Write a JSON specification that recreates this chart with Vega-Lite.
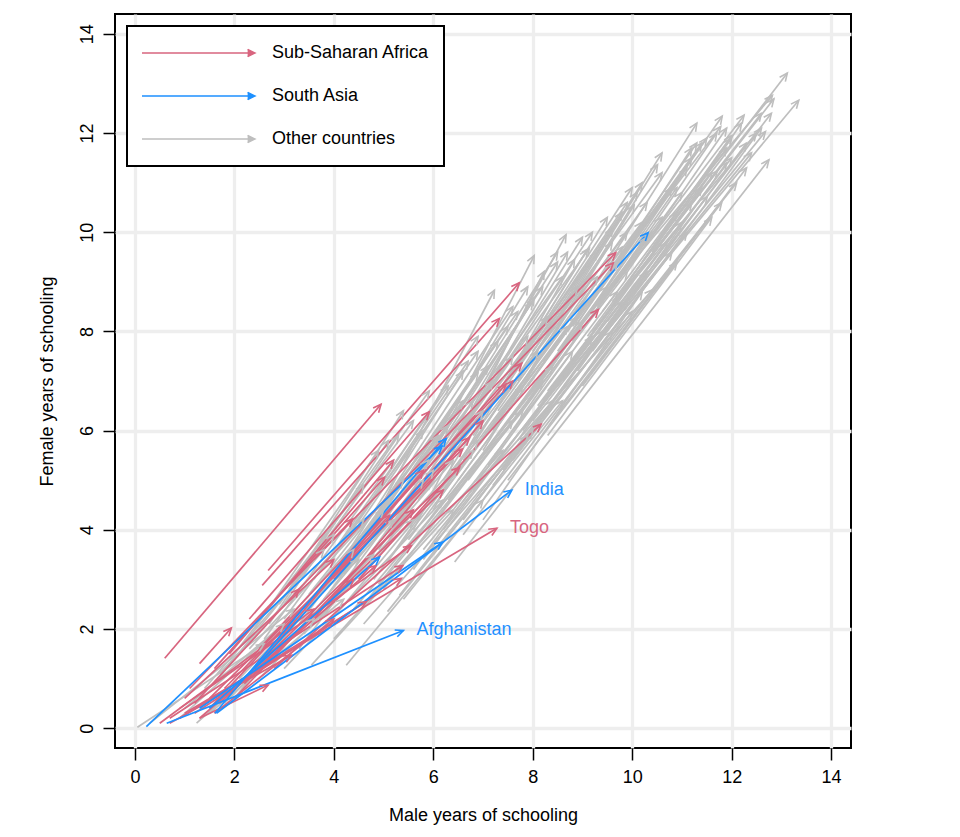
{
  "$schema": "https://vega.github.io/schema/vega-lite/v6.json",
  "autosize": "none",
  "width": 736,
  "height": 734,
  "padding": {"left": 115, "top": 14, "right": 109, "bottom": 89},
  "background": "white",
  "config": {
    "view": {"stroke": "black", "strokeWidth": 2},
    "font": "Liberation Sans",
    "axis": {
      "labelFont": "Liberation Sans", "labelFontSize": 18, "labelColor": "black",
      "titleFont": "Liberation Sans", "titleFontSize": 18, "titleFontWeight": "normal", "titleColor": "black",
      "tickColor": "black", "tickWidth": 1.5, "tickSize": 12, "domain": false,
      "gridColor": "#EEEEEE", "gridWidth": 3.3
    },
    "legend": {
      "labelFont": "Liberation Sans", "labelFontSize": 18, "labelColor": "black", "strokeWidth": 2
    }
  },
  "data": {"values": [
    {"x1":0.05,"y1":0.02,"x2":2.6,"y2":1.7,"region":"Other countries"},
    {"x1":0.3,"y1":0.1,"x2":3.2,"y2":2.4,"region":"Other countries"},
    {"x1":1.24,"y1":0.1,"x2":3.6,"y2":2.2,"region":"Other countries"},
    {"x1":0.9,"y1":0.2,"x2":3.0,"y2":2.1,"region":"Other countries"},
    {"x1":1.5,"y1":0.3,"x2":4.2,"y2":2.6,"region":"Other countries"},
    {"x1":1.0,"y1":0.4,"x2":4.5,"y2":3.4,"region":"Other countries"},
    {"x1":1.8,"y1":0.5,"x2":4.8,"y2":3.5,"region":"Other countries"},
    {"x1":2.0,"y1":0.6,"x2":4.4,"y2":3.6,"region":"Other countries"},
    {"x1":2.2,"y1":1.2,"x2":5.0,"y2":4.4,"region":"Other countries"},
    {"x1":1.6,"y1":0.9,"x2":4.0,"y2":3.9,"region":"Other countries"},
    {"x1":2.5,"y1":1.0,"x2":5.6,"y2":4.2,"region":"Other countries"},
    {"x1":2.8,"y1":1.4,"x2":5.8,"y2":5.0,"region":"Other countries"},
    {"x1":3.0,"y1":1.2,"x2":6.2,"y2":4.6,"region":"Other countries"},
    {"x1":3.55,"y1":1.27,"x2":6.4,"y2":4.4,"region":"Other countries"},
    {"x1":4.25,"y1":1.27,"x2":7.0,"y2":4.6,"region":"Other countries"},
    {"x1":3.3,"y1":1.6,"x2":6.0,"y2":5.2,"region":"Other countries"},
    {"x1":2.6,"y1":1.8,"x2":5.2,"y2":5.4,"region":"Other countries"},
    {"x1":2.4,"y1":2.0,"x2":4.9,"y2":5.6,"region":"Other countries"},
    {"x1":3.0,"y1":2.2,"x2":5.8,"y2":6.0,"region":"Other countries"},
    {"x1":3.4,"y1":2.4,"x2":6.3,"y2":6.1,"region":"Other countries"},
    {"x1":3.8,"y1":2.0,"x2":6.8,"y2":5.6,"region":"Other countries"},
    {"x1":4.0,"y1":2.6,"x2":7.0,"y2":6.4,"region":"Other countries"},
    {"x1":4.4,"y1":2.4,"x2":7.6,"y2":6.2,"region":"Other countries"},
    {"x1":5.08,"y1":2.35,"x2":8.0,"y2":6.0,"region":"Other countries"},
    {"x1":5.32,"y1":2.68,"x2":8.4,"y2":6.6,"region":"Other countries"},
    {"x1":6.43,"y1":3.35,"x2":12.75,"y2":11.46,"region":"Other countries"},
    {"x1":4.8,"y1":3.0,"x2":7.8,"y2":6.9,"region":"Other countries"},
    {"x1":3.6,"y1":3.0,"x2":6.3,"y2":6.9,"region":"Other countries"},
    {"x1":4.2,"y1":3.4,"x2":6.9,"y2":7.17,"region":"Other countries"},
    {"x1":3.2,"y1":3.0,"x2":5.92,"y2":6.8,"region":"Other countries"},
    {"x1":4.6,"y1":3.8,"x2":7.23,"y2":8.83,"region":"Other countries"},
    {"x1":5.0,"y1":3.6,"x2":8.03,"y2":8.68,"region":"Other countries"},
    {"x1":5.4,"y1":4.4,"x2":8.03,"y2":9.53,"region":"Other countries"},
    {"x1":5.6,"y1":4.0,"x2":8.23,"y2":9.21,"region":"Other countries"},
    {"x1":5.9,"y1":4.8,"x2":8.67,"y2":9.95,"region":"Other countries"},
    {"x1":6.0,"y1":4.4,"x2":8.84,"y2":9.45,"region":"Other countries"},
    {"x1":6.2,"y1":5.0,"x2":9.1,"y2":9.65,"region":"Other countries"},
    {"x1":6.6,"y1":5.4,"x2":9.61,"y2":10.08,"region":"Other countries"},
    {"x1":7.0,"y1":5.6,"x2":10.04,"y2":10.55,"region":"Other countries"},
    {"x1":6.8,"y1":4.8,"x2":10.41,"y2":8.84,"region":"Other countries"},
    {"x1":5.8,"y1":3.6,"x2":9.4,"y2":8.0,"region":"Other countries"},
    {"x1":6.2,"y1":4.0,"x2":9.8,"y2":8.6,"region":"Other countries"},
    {"x1":7.0,"y1":4.6,"x2":10.3,"y2":9.2,"region":"Other countries"},
    {"x1":7.4,"y1":5.2,"x2":10.7,"y2":9.8,"region":"Other countries"},
    {"x1":7.2,"y1":6.0,"x2":10.51,"y2":11.36,"region":"Other countries"},
    {"x1":7.8,"y1":6.4,"x2":11.0,"y2":10.8,"region":"Other countries"},
    {"x1":8.0,"y1":6.2,"x2":11.51,"y2":10.72,"region":"Other countries"},
    {"x1":8.3,"y1":6.8,"x2":11.71,"y2":11.24,"region":"Other countries"},
    {"x1":8.6,"y1":7.0,"x2":12.68,"y2":12.03,"region":"Other countries"},
    {"x1":8.2,"y1":7.4,"x2":11.78,"y2":12.13,"region":"Other countries"},
    {"x1":8.5,"y1":7.6,"x2":11.81,"y2":12.34,"region":"Other countries"},
    {"x1":8.8,"y1":7.8,"x2":12.25,"y2":12.36,"region":"Other countries"},
    {"x1":9.0,"y1":8.2,"x2":12.82,"y2":12.76,"region":"Other countries"},
    {"x1":9.2,"y1":8.0,"x2":12.85,"y2":12.69,"region":"Other countries"},
    {"x1":9.6,"y1":8.6,"x2":13.12,"y2":13.21,"region":"Other countries"},
    {"x1":9.4,"y1":7.9,"x2":13.35,"y2":12.66,"region":"Other countries"},
    {"x1":7.6,"y1":6.6,"x2":10.8,"y2":10.9,"region":"Other countries"},
    {"x1":7.9,"y1":6.9,"x2":11.2,"y2":11.5,"region":"Other countries"},
    {"x1":8.1,"y1":7.2,"x2":11.4,"y2":11.8,"region":"Other countries"},
    {"x1":7.5,"y1":6.2,"x2":10.6,"y2":10.3,"region":"Other countries"},
    {"x1":6.9,"y1":5.8,"x2":10.2,"y2":10.2,"region":"Other countries"},
    {"x1":6.4,"y1":5.2,"x2":9.6,"y2":9.8,"region":"Other countries"},
    {"x1":6.7,"y1":5.0,"x2":9.9,"y2":9.2,"region":"Other countries"},
    {"x1":6.1,"y1":4.6,"x2":9.3,"y2":9.1,"region":"Other countries"},
    {"x1":5.7,"y1":4.6,"x2":8.9,"y2":8.9,"region":"Other countries"},
    {"x1":5.2,"y1":4.0,"x2":8.3,"y2":8.3,"region":"Other countries"},
    {"x1":5.5,"y1":3.8,"x2":8.7,"y2":8.1,"region":"Other countries"},
    {"x1":4.9,"y1":3.6,"x2":7.9,"y2":7.9,"region":"Other countries"},
    {"x1":4.5,"y1":3.2,"x2":7.6,"y2":7.5,"region":"Other countries"},
    {"x1":4.1,"y1":2.8,"x2":7.2,"y2":7.0,"region":"Other countries"},
    {"x1":3.9,"y1":3.3,"x2":6.7,"y2":7.4,"region":"Other countries"},
    {"x1":4.3,"y1":3.9,"x2":6.9,"y2":7.9,"region":"Other countries"},
    {"x1":3.5,"y1":2.7,"x2":6.6,"y2":6.6,"region":"Other countries"},
    {"x1":2.9,"y1":2.5,"x2":5.6,"y2":6.2,"region":"Other countries"},
    {"x1":3.1,"y1":2.8,"x2":5.4,"y2":6.4,"region":"Other countries"},
    {"x1":2.0,"y1":1.5,"x2":4.6,"y2":4.9,"region":"Other countries"},
    {"x1":1.4,"y1":0.8,"x2":3.8,"y2":3.6,"region":"Other countries"},
    {"x1":2.3,"y1":1.6,"x2":5.4,"y2":5.0,"region":"Other countries"},
    {"x1":2.7,"y1":2.1,"x2":5.1,"y2":5.8,"region":"Other countries"},
    {"x1":3.7,"y1":2.2,"x2":6.9,"y2":5.8,"region":"Other countries"},
    {"x1":4.6,"y1":2.5,"x2":7.8,"y2":6.4,"region":"Other countries"},
    {"x1":5.0,"y1":2.8,"x2":8.2,"y2":7.0,"region":"Other countries"},
    {"x1":5.6,"y1":3.2,"x2":8.8,"y2":7.6,"region":"Other countries"},
    {"x1":6.0,"y1":3.5,"x2":9.6,"y2":8.0,"region":"Other countries"},
    {"x1":6.6,"y1":4.2,"x2":9.9,"y2":8.6,"region":"Other countries"},
    {"x1":7.2,"y1":4.9,"x2":10.8,"y2":9.6,"region":"Other countries"},
    {"x1":7.6,"y1":5.4,"x2":11.1,"y2":10.0,"region":"Other countries"},
    {"x1":8.4,"y1":6.2,"x2":11.8,"y2":10.6,"region":"Other countries"},
    {"x1":8.8,"y1":6.8,"x2":12.1,"y2":11.0,"region":"Other countries"},
    {"x1":9.0,"y1":7.4,"x2":12.4,"y2":11.6,"region":"Other countries"},
    {"x1":9.4,"y1":8.4,"x2":12.0,"y2":11.9,"region":"Other countries"},
    {"x1":9.8,"y1":8.8,"x2":12.6,"y2":12.4,"region":"Other countries"},
    {"x1":8.7,"y1":8.0,"x2":11.3,"y2":11.8,"region":"Other countries"},
    {"x1":8.0,"y1":7.6,"x2":10.6,"y2":11.2,"region":"Other countries"},
    {"x1":7.4,"y1":6.8,"x2":10.1,"y2":10.8,"region":"Other countries"},
    {"x1":7.0,"y1":6.3,"x2":9.8,"y2":10.4,"region":"Other countries"},
    {"x1":6.5,"y1":6.0,"x2":9.14,"y2":9.68,"region":"Other countries"},
    {"x1":6.3,"y1":5.6,"x2":9.0,"y2":9.9,"region":"Other countries"},
    {"x1":5.8,"y1":5.2,"x2":8.5,"y2":9.4,"region":"Other countries"},
    {"x1":5.3,"y1":4.6,"x2":8.2,"y2":8.9,"region":"Other countries"},
    {"x1":4.8,"y1":4.2,"x2":7.7,"y2":8.4,"region":"Other countries"},
    {"x1":4.4,"y1":3.6,"x2":7.3,"y2":7.8,"region":"Other countries"},
    {"x1":5.1,"y1":3.4,"x2":8.1,"y2":7.6,"region":"Other countries"},
    {"x1":6.8,"y1":5.6,"x2":9.8,"y2":9.7,"region":"Other countries"},
    {"x1":7.3,"y1":5.9,"x2":10.4,"y2":10.0,"region":"Other countries"},
    {"x1":7.8,"y1":6.0,"x2":11.0,"y2":10.2,"region":"Other countries"},
    {"x1":8.2,"y1":6.6,"x2":11.4,"y2":10.9,"region":"Other countries"},
    {"x1":9.2,"y1":7.6,"x2":12.3,"y2":11.8,"region":"Other countries"},
    {"x1":10.0,"y1":9.0,"x2":12.5,"y2":12.0,"region":"Other countries"},
    {"x1":9.5,"y1":8.2,"x2":12.0,"y2":11.5,"region":"Other countries"},
    {"x1":10.2,"y1":9.4,"x2":12.0,"y2":11.95,"region":"Other countries"},
    {"x1":3.4,"y1":1.9,"x2":6.4,"y2":5.4,"region":"Other countries"},
    {"x1":2.1,"y1":1.0,"x2":5.2,"y2":4.2,"region":"Other countries"},
    {"x1":1.7,"y1":1.1,"x2":4.6,"y2":4.2,"region":"Other countries"},
    {"x1":5.9,"y1":4.0,"x2":9.0,"y2":8.2,"region":"Other countries"},
    {"x1":6.3,"y1":4.6,"x2":9.5,"y2":8.9,"region":"Other countries"},
    {"x1":4.0,"y1":3.1,"x2":6.6,"y2":7.2,"region":"Other countries"},
    {"x1":6.1,"y1":5.2,"x2":8.7,"y2":9.6,"region":"Other countries"},
    {"x1":5.4,"y1":4.8,"x2":7.9,"y2":8.9,"region":"Other countries"},
    {"x1":6.9,"y1":6.1,"x2":9.5,"y2":10.3,"region":"Other countries"},
    {"x1":7.7,"y1":7.0,"x2":10.2,"y2":11.0,"region":"Other countries"},
    {"x1":8.3,"y1":7.9,"x2":10.6,"y2":11.6,"region":"Other countries"},
    {"x1":7.6,"y1":7.2,"x2":10.0,"y2":10.9,"region":"Other countries"},
    {"x1":8.9,"y1":8.4,"x2":11.3,"y2":12.2,"region":"Other countries"},
    {"x1":7.0,"y1":4.2,"x2":10.2,"y2":8.8,"region":"Other countries"},
    {"x1":4.0,"y1":1.8,"x2":7.4,"y2":5.6,"region":"Other countries"},
    {"x1":4.6,"y1":2.1,"x2":7.9,"y2":5.9,"region":"Other countries"},
    {"x1":5.4,"y1":2.6,"x2":8.6,"y2":6.6,"region":"Other countries"},
    {"x1":6.5,"y1":5.0,"x2":9.7,"y2":9.4,"region":"Other countries"},
    {"x1":7.1,"y1":5.3,"x2":10.3,"y2":9.9,"region":"Other countries"},
    {"x1":7.7,"y1":5.8,"x2":10.9,"y2":10.4,"region":"Other countries"},
    {"x1":8.1,"y1":6.5,"x2":11.2,"y2":10.6,"region":"Other countries"},
    {"x1":8.5,"y1":6.9,"x2":11.6,"y2":11.2,"region":"Other countries"},
    {"x1":8.9,"y1":7.2,"x2":11.9,"y2":11.4,"region":"Other countries"},
    {"x1":9.1,"y1":7.9,"x2":11.9,"y2":11.7,"region":"Other countries"},
    {"x1":8.4,"y1":7.3,"x2":11.1,"y2":11.3,"region":"Other countries"},
    {"x1":7.9,"y1":6.6,"x2":10.9,"y2":10.9,"region":"Other countries"},
    {"x1":7.3,"y1":6.4,"x2":10.3,"y2":10.6,"region":"Other countries"},
    {"x1":6.8,"y1":5.9,"x2":9.9,"y2":10.0,"region":"Other countries"},
    {"x1":6.2,"y1":5.4,"x2":9.3,"y2":9.6,"region":"Other countries"},
    {"x1":5.6,"y1":4.9,"x2":8.6,"y2":9.1,"region":"Other countries"},
    {"x1":5.1,"y1":4.3,"x2":8.0,"y2":8.6,"region":"Other countries"},
    {"x1":4.7,"y1":3.9,"x2":7.5,"y2":8.1,"region":"Other countries"},
    {"x1":4.2,"y1":3.1,"x2":7.1,"y2":7.3,"region":"Other countries"},
    {"x1":3.8,"y1":2.6,"x2":6.8,"y2":6.6,"region":"Other countries"},
    {"x1":3.3,"y1":2.1,"x2":6.1,"y2":5.9,"region":"Other countries"},
    {"x1":2.9,"y1":1.7,"x2":5.9,"y2":5.4,"region":"Other countries"},
    {"x1":5.7,"y1":3.9,"x2":8.9,"y2":8.3,"region":"Other countries"},
    {"x1":6.4,"y1":4.4,"x2":9.7,"y2":8.8,"region":"Other countries"},
    {"x1":7.5,"y1":5.0,"x2":10.9,"y2":9.4,"region":"Other countries"},
    {"x1":8.3,"y1":5.9,"x2":11.6,"y2":10.3,"region":"Other countries"},
    {"x1":9.0,"y1":6.9,"x2":12.3,"y2":11.3,"region":"Other countries"},
    {"x1":9.6,"y1":8.0,"x2":12.6,"y2":12.1,"region":"Other countries"},
    {"x1":10.1,"y1":8.9,"x2":12.8,"y2":12.4,"region":"Other countries"},
    {"x1":9.3,"y1":8.5,"x2":11.7,"y2":12.0,"region":"Other countries"},
    {"x1":8.6,"y1":7.7,"x2":11.2,"y2":11.7,"region":"Other countries"},
    {"x1":7.2,"y1":6.6,"x2":9.9,"y2":10.6,"region":"Other countries"},
    {"x1":6.7,"y1":6.2,"x2":9.2,"y2":10.0,"region":"Other countries"},
    {"x1":6.0,"y1":5.6,"x2":8.5,"y2":9.6,"region":"Other countries"},
    {"x1":5.1,"y1":4.7,"x2":7.6,"y2":8.5,"region":"Other countries"},
    {"x1":4.5,"y1":4.1,"x2":6.9,"y2":7.6,"region":"Other countries"},
    {"x1":4.9,"y1":2.9,"x2":8.4,"y2":7.3,"region":"Other countries"},
    {"x1":5.8,"y1":3.4,"x2":9.2,"y2":7.9,"region":"Other countries"},
    {"x1":6.6,"y1":3.9,"x2":10.0,"y2":8.4,"region":"Other countries"},
    {"x1":10.4,"y1":9.6,"x2":12.2,"y2":12.2,"region":"Other countries"},
    {"x1":9.9,"y1":9.2,"x2":11.9,"y2":12.1,"region":"Other countries"},
    {"x1":8.8,"y1":8.1,"x2":11.5,"y2":11.9,"region":"Other countries"},
    {"x1":3.0,"y1":2.5,"x2":5.3,"y2":5.9,"region":"Other countries"},
    {"x1":0.6,"y1":1.41,"x2":4.95,"y2":6.53,"region":"Sub-Saharan Africa"},
    {"x1":2.68,"y1":3.18,"x2":7.73,"y2":8.98,"region":"Sub-Saharan Africa"},
    {"x1":2.56,"y1":2.88,"x2":7.33,"y2":8.26,"region":"Sub-Saharan Africa"},
    {"x1":3.6,"y1":3.4,"x2":9.67,"y2":9.59,"region":"Sub-Saharan Africa"},
    {"x1":3.2,"y1":2.7,"x2":9.62,"y2":9.38,"region":"Sub-Saharan Africa"},
    {"x1":4.5,"y1":3.0,"x2":9.32,"y2":8.44,"region":"Sub-Saharan Africa"},
    {"x1":3.0,"y1":2.0,"x2":7.78,"y2":7.36,"region":"Sub-Saharan Africa"},
    {"x1":2.5,"y1":1.6,"x2":7.46,"y2":6.93,"region":"Sub-Saharan Africa"},
    {"x1":2.3,"y1":2.2,"x2":5.92,"y2":6.38,"region":"Sub-Saharan Africa"},
    {"x1":2.8,"y1":1.2,"x2":8.17,"y2":6.13,"region":"Sub-Saharan Africa"},
    {"x1":1.8,"y1":0.8,"x2":6.73,"y2":5.86,"region":"Sub-Saharan Africa"},
    {"x1":1.5,"y1":0.6,"x2":6.59,"y2":5.63,"region":"Sub-Saharan Africa"},
    {"x1":1.9,"y1":0.7,"x2":6.53,"y2":5.26,"region":"Sub-Saharan Africa"},
    {"x1":1.6,"y1":1.2,"x2":5.02,"y2":5.06,"region":"Sub-Saharan Africa"},
    {"x1":1.1,"y1":0.8,"x2":4.38,"y2":4.22,"region":"Sub-Saharan Africa"},
    {"x1":1.0,"y1":0.3,"x2":7.28,"y2":4.03,"region":"Sub-Saharan Africa","lab":"Togo"},
    {"x1":0.9,"y1":0.4,"x2":5.56,"y2":3.68,"region":"Sub-Saharan Africa"},
    {"x1":0.7,"y1":0.2,"x2":5.39,"y2":3.28,"region":"Sub-Saharan Africa"},
    {"x1":1.2,"y1":0.3,"x2":5.36,"y2":3.02,"region":"Sub-Saharan Africa"},
    {"x1":1.3,"y1":1.3,"x2":1.94,"y2":2.02,"region":"Sub-Saharan Africa"},
    {"x1":1.5,"y1":0.4,"x2":5.12,"y2":4.29,"region":"Sub-Saharan Africa"},
    {"x1":1.3,"y1":0.2,"x2":4.85,"y2":3.28,"region":"Sub-Saharan Africa"},
    {"x1":0.9,"y1":0.2,"x2":4.65,"y2":2.55,"region":"Sub-Saharan Africa"},
    {"x1":0.7,"y1":0.1,"x2":3.15,"y2":1.47,"region":"Sub-Saharan Africa"},
    {"x1":1.3,"y1":0.2,"x2":2.68,"y2":0.87,"region":"Sub-Saharan Africa"},
    {"x1":0.5,"y1":0.1,"x2":3.6,"y2":2.4,"region":"Sub-Saharan Africa"},
    {"x1":1.0,"y1":0.6,"x2":4.0,"y2":3.4,"region":"Sub-Saharan Africa"},
    {"x1":1.7,"y1":0.5,"x2":4.4,"y2":3.0,"region":"Sub-Saharan Africa"},
    {"x1":2.0,"y1":0.6,"x2":5.6,"y2":4.4,"region":"Sub-Saharan Africa"},
    {"x1":1.2,"y1":0.5,"x2":3.3,"y2":2.8,"region":"Sub-Saharan Africa"},
    {"x1":2.4,"y1":1.2,"x2":5.8,"y2":5.2,"region":"Sub-Saharan Africa"},
    {"x1":1.6,"y1":0.3,"x2":4.0,"y2":2.2,"region":"Sub-Saharan Africa"},
    {"x1":2.2,"y1":0.9,"x2":6.2,"y2":4.8,"region":"Sub-Saharan Africa"},
    {"x1":1.9,"y1":1.5,"x2":5.2,"y2":5.4,"region":"Sub-Saharan Africa"},
    {"x1":3.6,"y1":2.2,"x2":7.0,"y2":6.2,"region":"Sub-Saharan Africa"},
    {"x1":4.0,"y1":3.0,"x2":7.6,"y2":7.0,"region":"Sub-Saharan Africa"},
    {"x1":0.64,"y1":0.1,"x2":5.4,"y2":1.97,"region":"South Asia","lab":"Afghanistan"},
    {"x1":1.64,"y1":0.3,"x2":7.58,"y2":4.8,"region":"South Asia","lab":"India"},
    {"x1":0.23,"y1":0.03,"x2":6.18,"y2":5.69,"region":"South Asia"},
    {"x1":1.61,"y1":0.3,"x2":6.26,"y2":5.84,"region":"South Asia"},
    {"x1":2.4,"y1":1.2,"x2":10.32,"y2":9.99,"region":"South Asia"},
    {"x1":1.5,"y1":0.4,"x2":4.92,"y2":3.45,"region":"South Asia"},
    {"x1":1.3,"y1":0.4,"x2":6.19,"y2":3.75,"region":"South Asia"}
  ]},
  "encoding": {
    "x": {"field": "x1", "type": "quantitative", "scale": {"domain": [-0.4, 14.4], "nice": false, "zero": false},
      "axis": {"values": [0,2,4,6,8,10,12,14], "title": "Male years of schooling", "labelPadding": 8, "titlePadding": 20}},
    "y": {"field": "y1", "type": "quantitative", "scale": {"domain": [-0.4, 14.4], "nice": false, "zero": false},
      "axis": {"values": [0,2,4,6,8,10,12,14], "title": "Female years of schooling", "labelAngle": -90, "labelAlign": "center", "labelBaseline": "bottom", "labelPadding": 7, "titlePadding": 22}},
    "color": {"field": "region", "type": "nominal",
      "scale": {"domain": ["Sub-Saharan Africa", "South Asia", "Other countries"], "range": ["#D8657F", "#1E90FF", "#BEBEBE"]},
      "legend": {"title": null, "orient": "none", "legendX": 12, "legendY": 12,
        "symbolType": "M-1,0L0.985,0M0.87,-0.065L1,0L0.87,0.065", "symbolSize": 12769, "symbolStrokeWidth": 1.5,
        "symbolFillColor": "transparent", "clipHeight": 26, "rowPadding": 17, "padding": 14, "labelOffset": 16, "symbolOffset": 0,
        "strokeColor": "black", "fillColor": "white"}}
  },
  "layer": [
    {"mark": {"type": "rule", "strokeWidth": 1.7, "opacity": 1},
     "encoding": {"x2": {"field": "x2"}, "y2": {"field": "y2"}}},
    {"transform": [{"calculate": "-atan2(datum.y2 - datum.y1, datum.x2 - datum.x1) * 180 / PI", "as": "ang"}],
     "mark": {"type": "point", "shape": "M-1,-0.45L0,0L-1,0.45", "filled": false, "size": 256, "strokeWidth": 1.6, "opacity": 1},
     "encoding": {"x": {"field": "x2", "type": "quantitative"}, "y": {"field": "y2", "type": "quantitative"},
       "angle": {"field": "ang", "type": "quantitative", "scale": null}}},
    {"transform": [{"filter": "isValid(datum.lab)"}],
     "mark": {"type": "text", "align": "left", "baseline": "middle", "dx": 13, "fontSize": 18, "font": "Liberation Sans"},
     "encoding": {"x": {"field": "x2", "type": "quantitative"}, "y": {"field": "y2", "type": "quantitative"},
       "text": {"field": "lab"}, "color": {"field": "region", "type": "nominal"}}}
  ]
}
